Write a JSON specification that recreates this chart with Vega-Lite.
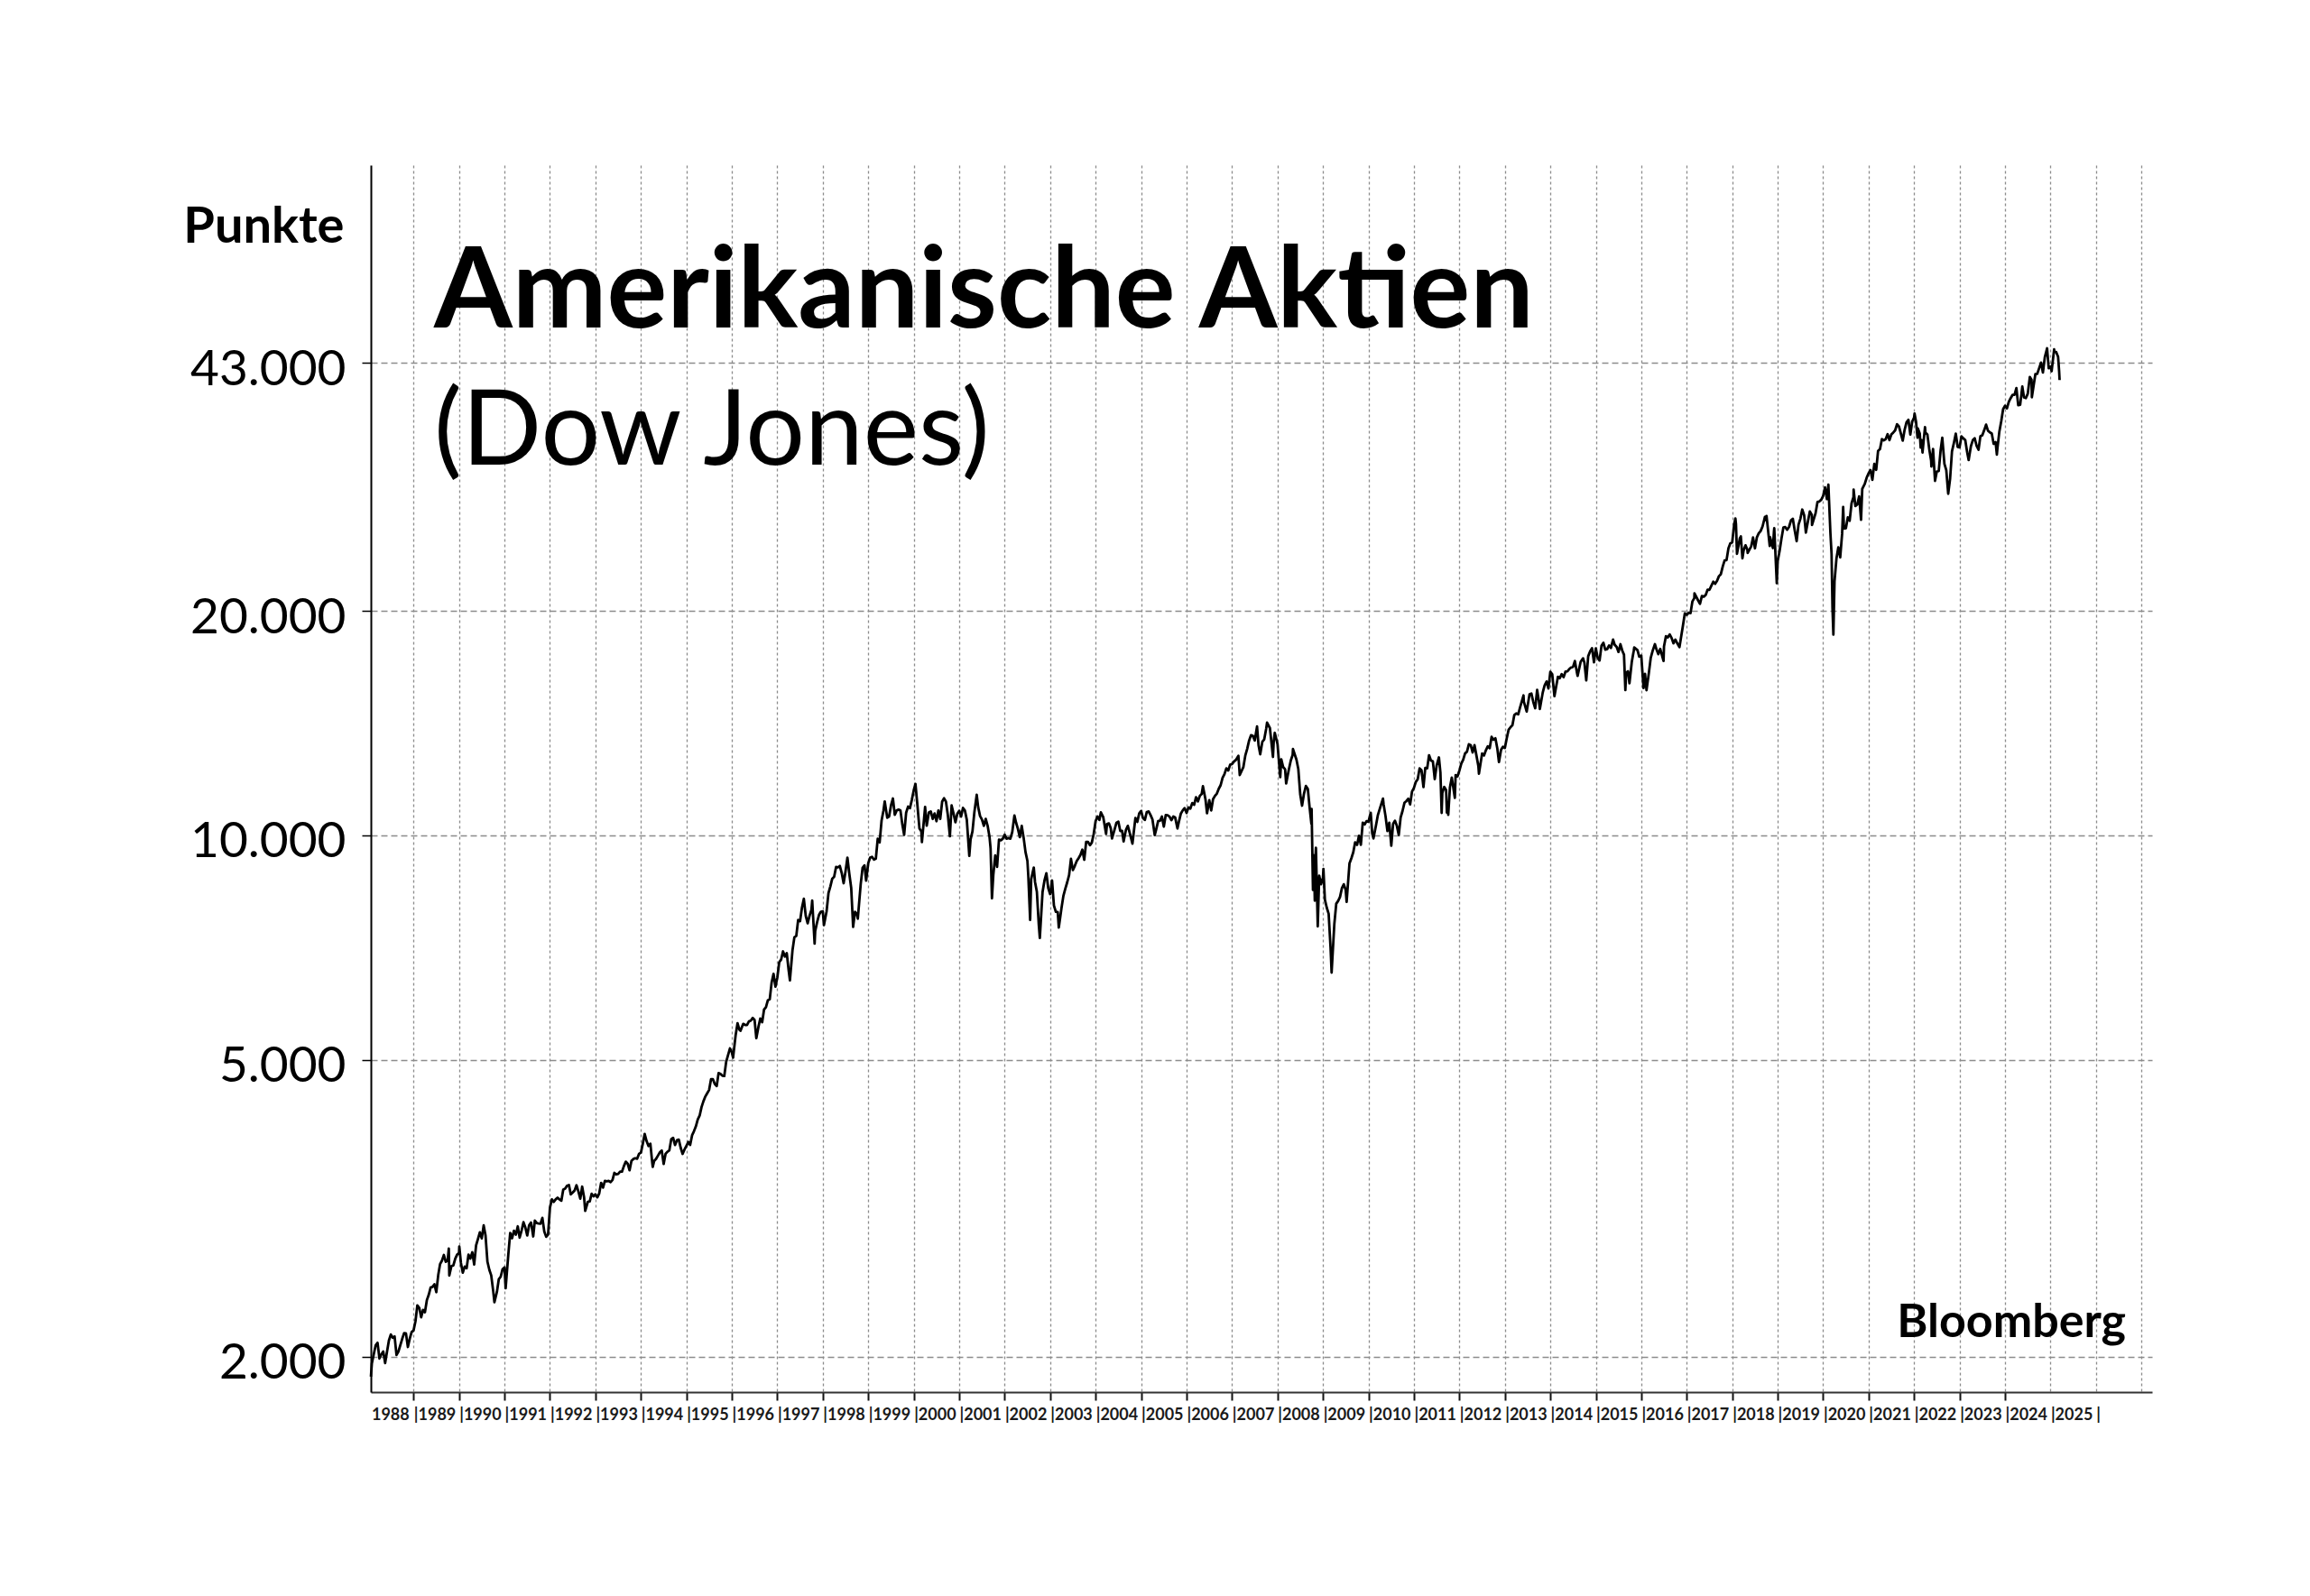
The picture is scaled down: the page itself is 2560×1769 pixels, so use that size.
{
"$schema":"https://vega.github.io/schema/vega-lite/v6.json",
"width":1974,"height":1360,
"autosize":{"type":"none"},
"padding":{"left":411,"top":183,"right":175,"bottom":226},
"background":"white",
"config":{"view":{"stroke":null},"font":"Lato"},
"title":{"text":"Amerikanische Aktien","subtitle":"(Dow Jones)","anchor":"start","frame":"group","orient":"top","font":"Lato","fontSize":125,"fontWeight":"bold","color":"black","subtitleFont":"Lato","subtitleFontSize":116,"subtitleFontWeight":"normal","subtitleColor":"black","subtitlePadding":34,"offset":-356,"dx":70},
"layer":[
{"data":{"values":[
{"t":1988.062,"v":1880},{"t":1988.083,"v":1958},{"t":1988.125,"v":2014},{"t":1988.167,"v":2071},{"t":1988.208,"v":2087},{"t":1988.25,"v":1988},{"t":1988.292,"v":2013},{"t":1988.333,"v":2032},{"t":1988.375,"v":1960},{"t":1988.417,"v":2031},{"t":1988.458,"v":2102},{"t":1988.5,"v":2141},{"t":1988.542,"v":2120},{"t":1988.583,"v":2128},{"t":1988.625,"v":2010},{"t":1988.667,"v":2031},{"t":1988.708,"v":2071},{"t":1988.75,"v":2112},{"t":1988.792,"v":2150},{"t":1988.833,"v":2148},{"t":1988.875,"v":2060},{"t":1988.917,"v":2114},{"t":1988.958,"v":2158},{"t":1989.0,"v":2168},
{"t":1989.042,"v":2230},{"t":1989.083,"v":2342},{"t":1989.125,"v":2325},{"t":1989.167,"v":2258},{"t":1989.208,"v":2310},{"t":1989.25,"v":2293},{"t":1989.292,"v":2380},{"t":1989.333,"v":2419},{"t":1989.375,"v":2475},{"t":1989.417,"v":2480},{"t":1989.458,"v":2500},{"t":1989.5,"v":2440},{"t":1989.542,"v":2570},{"t":1989.583,"v":2661},{"t":1989.625,"v":2690},{"t":1989.667,"v":2737},{"t":1989.708,"v":2680},{"t":1989.75,"v":2692},{"t":1989.775,"v":2791},{"t":1989.786,"v":2569},{"t":1989.833,"v":2645},{"t":1989.875,"v":2650},{"t":1989.917,"v":2706},{"t":1989.958,"v":2740},{"t":1990.0,"v":2753},
{"t":1990.006,"v":2810},{"t":1990.042,"v":2670},{"t":1990.083,"v":2591},{"t":1990.125,"v":2640},{"t":1990.167,"v":2627},{"t":1990.208,"v":2740},{"t":1990.25,"v":2707},{"t":1990.292,"v":2760},{"t":1990.333,"v":2657},{"t":1990.375,"v":2820},{"t":1990.417,"v":2877},{"t":1990.458,"v":2935},{"t":1990.5,"v":2881},{"t":1990.542,"v":2999},{"t":1990.583,"v":2905},{"t":1990.625,"v":2680},{"t":1990.667,"v":2614},{"t":1990.708,"v":2570},{"t":1990.75,"v":2453},{"t":1990.778,"v":2365},{"t":1990.833,"v":2442},{"t":1990.875,"v":2540},{"t":1990.917,"v":2560},{"t":1990.958,"v":2620},{"t":1991.0,"v":2634},
{"t":1991.025,"v":2470},{"t":1991.083,"v":2736},{"t":1991.125,"v":2930},{"t":1991.167,"v":2882},{"t":1991.208,"v":2950},{"t":1991.25,"v":2914},{"t":1991.292,"v":2990},{"t":1991.333,"v":2888},{"t":1991.375,"v":2950},{"t":1991.417,"v":3028},{"t":1991.458,"v":2980},{"t":1991.5,"v":2907},{"t":1991.542,"v":3000},{"t":1991.583,"v":3025},{"t":1991.632,"v":2898},{"t":1991.667,"v":3044},{"t":1991.708,"v":3020},{"t":1991.75,"v":3017},{"t":1991.792,"v":3015},{"t":1991.833,"v":3069},{"t":1991.875,"v":2943},{"t":1991.917,"v":2895},{"t":1991.958,"v":2915},{"t":1992.0,"v":3169},
{"t":1992.042,"v":3250},{"t":1992.083,"v":3224},{"t":1992.125,"v":3250},{"t":1992.167,"v":3267},{"t":1992.208,"v":3250},{"t":1992.25,"v":3236},{"t":1992.292,"v":3350},{"t":1992.333,"v":3359},{"t":1992.375,"v":3390},{"t":1992.417,"v":3397},{"t":1992.458,"v":3300},{"t":1992.5,"v":3319},{"t":1992.542,"v":3340},{"t":1992.583,"v":3394},{"t":1992.625,"v":3330},{"t":1992.667,"v":3257},{"t":1992.708,"v":3380},{"t":1992.75,"v":3272},{"t":1992.775,"v":3136},{"t":1992.833,"v":3226},{"t":1992.875,"v":3230},{"t":1992.917,"v":3306},{"t":1992.958,"v":3280},{"t":1993.0,"v":3301},
{"t":1993.042,"v":3270},{"t":1993.083,"v":3310},{"t":1993.125,"v":3420},{"t":1993.167,"v":3370},{"t":1993.208,"v":3440},{"t":1993.25,"v":3435},{"t":1993.292,"v":3440},{"t":1993.333,"v":3428},{"t":1993.375,"v":3450},{"t":1993.417,"v":3527},{"t":1993.458,"v":3510},{"t":1993.5,"v":3516},{"t":1993.542,"v":3540},{"t":1993.583,"v":3540},{"t":1993.625,"v":3600},{"t":1993.667,"v":3651},{"t":1993.708,"v":3630},{"t":1993.75,"v":3555},{"t":1993.792,"v":3660},{"t":1993.833,"v":3681},{"t":1993.875,"v":3690},{"t":1993.917,"v":3684},{"t":1993.958,"v":3740},{"t":1994.0,"v":3754},
{"t":1994.042,"v":3860},{"t":1994.083,"v":3978},{"t":1994.125,"v":3890},{"t":1994.167,"v":3832},{"t":1994.208,"v":3860},{"t":1994.25,"v":3636},{"t":1994.26,"v":3593},{"t":1994.292,"v":3660},{"t":1994.333,"v":3682},{"t":1994.375,"v":3720},{"t":1994.417,"v":3758},{"t":1994.458,"v":3780},{"t":1994.5,"v":3625},{"t":1994.542,"v":3740},{"t":1994.583,"v":3765},{"t":1994.625,"v":3780},{"t":1994.667,"v":3913},{"t":1994.708,"v":3930},{"t":1994.75,"v":3843},{"t":1994.792,"v":3900},{"t":1994.833,"v":3908},{"t":1994.875,"v":3810},{"t":1994.917,"v":3739},{"t":1994.958,"v":3790},{"t":1995.0,"v":3834},
{"t":1995.042,"v":3880},{"t":1995.083,"v":3844},{"t":1995.125,"v":3960},{"t":1995.167,"v":4011},{"t":1995.208,"v":4070},{"t":1995.25,"v":4158},{"t":1995.292,"v":4210},{"t":1995.333,"v":4321},{"t":1995.375,"v":4400},{"t":1995.417,"v":4465},{"t":1995.458,"v":4510},{"t":1995.5,"v":4556},{"t":1995.542,"v":4710},{"t":1995.583,"v":4709},{"t":1995.625,"v":4640},{"t":1995.667,"v":4611},{"t":1995.708,"v":4800},{"t":1995.75,"v":4789},{"t":1995.792,"v":4760},{"t":1995.833,"v":4756},{"t":1995.875,"v":4970},{"t":1995.917,"v":5075},{"t":1995.958,"v":5180},{"t":1996.0,"v":5117},
{"t":1996.027,"v":5032},{"t":1996.083,"v":5395},{"t":1996.125,"v":5600},{"t":1996.167,"v":5486},{"t":1996.19,"v":5470},{"t":1996.25,"v":5588},{"t":1996.292,"v":5570},{"t":1996.333,"v":5569},{"t":1996.375,"v":5630},{"t":1996.417,"v":5643},{"t":1996.458,"v":5690},{"t":1996.5,"v":5655},{"t":1996.538,"v":5346},{"t":1996.583,"v":5529},{"t":1996.625,"v":5680},{"t":1996.667,"v":5616},{"t":1996.708,"v":5840},{"t":1996.75,"v":5882},{"t":1996.792,"v":6010},{"t":1996.833,"v":6029},{"t":1996.875,"v":6350},{"t":1996.917,"v":6522},{"t":1996.958,"v":6268},{"t":1997.0,"v":6448},
{"t":1997.042,"v":6760},{"t":1997.083,"v":6813},{"t":1997.125,"v":6990},{"t":1997.167,"v":6878},{"t":1997.208,"v":6950},{"t":1997.25,"v":6584},{"t":1997.277,"v":6391},{"t":1997.333,"v":7009},{"t":1997.375,"v":7300},{"t":1997.417,"v":7331},{"t":1997.458,"v":7700},{"t":1997.5,"v":7673},{"t":1997.542,"v":8000},{"t":1997.583,"v":8223},{"t":1997.625,"v":7800},{"t":1997.667,"v":7622},{"t":1997.708,"v":7800},{"t":1997.75,"v":7945},{"t":1997.767,"v":8178},{"t":1997.82,"v":7161},{"t":1997.833,"v":7442},{"t":1997.875,"v":7650},{"t":1997.917,"v":7823},{"t":1997.958,"v":7900},{"t":1998.0,"v":7908},
{"t":1998.025,"v":7580},{"t":1998.083,"v":7907},{"t":1998.125,"v":8370},{"t":1998.167,"v":8546},{"t":1998.208,"v":8750},{"t":1998.25,"v":8800},{"t":1998.292,"v":9070},{"t":1998.333,"v":9063},{"t":1998.375,"v":9100},{"t":1998.417,"v":8900},{"t":1998.458,"v":8627},{"t":1998.5,"v":8952},{"t":1998.542,"v":9338},{"t":1998.583,"v":8883},{"t":1998.625,"v":8500},{"t":1998.667,"v":7539},{"t":1998.708,"v":7900},{"t":1998.75,"v":7843},{"t":1998.77,"v":7731},{"t":1998.833,"v":8592},{"t":1998.875,"v":9050},{"t":1998.917,"v":9117},{"t":1998.953,"v":8695},{"t":1999.0,"v":9181},
{"t":1999.042,"v":9340},{"t":1999.083,"v":9359},{"t":1999.125,"v":9280},{"t":1999.167,"v":9307},{"t":1999.208,"v":9900},{"t":1999.25,"v":9786},{"t":1999.292,"v":10460},{"t":1999.333,"v":10789},{"t":1999.362,"v":11107},{"t":1999.417,"v":10560},{"t":1999.458,"v":10600},{"t":1999.5,"v":10971},{"t":1999.542,"v":11209},{"t":1999.583,"v":10655},{"t":1999.625,"v":10800},{"t":1999.667,"v":10829},{"t":1999.708,"v":10800},{"t":1999.75,"v":10337},{"t":1999.789,"v":10019},{"t":1999.833,"v":10729},{"t":1999.875,"v":10930},{"t":1999.917,"v":10878},{"t":1999.958,"v":11160},{"t":2000.0,"v":11497},
{"t":2000.038,"v":11723},{"t":2000.083,"v":10941},{"t":2000.125,"v":10220},{"t":2000.167,"v":10128},{"t":2000.18,"v":9796},{"t":2000.25,"v":10922},{"t":2000.285,"v":10306},{"t":2000.333,"v":10734},{"t":2000.375,"v":10770},{"t":2000.417,"v":10522},{"t":2000.458,"v":10700},{"t":2000.5,"v":10448},{"t":2000.542,"v":10800},{"t":2000.583,"v":10522},{"t":2000.625,"v":11100},{"t":2000.667,"v":11215},{"t":2000.708,"v":11100},{"t":2000.75,"v":10651},{"t":2000.795,"v":9976},{"t":2000.833,"v":10971},{"t":2000.875,"v":10700},{"t":2000.917,"v":10415},{"t":2000.958,"v":10690},{"t":2001.0,"v":10788},
{"t":2001.042,"v":10600},{"t":2001.083,"v":10887},{"t":2001.125,"v":10800},{"t":2001.167,"v":10495},{"t":2001.222,"v":9389},{"t":2001.25,"v":9879},{"t":2001.292,"v":10130},{"t":2001.333,"v":10735},{"t":2001.385,"v":11337},{"t":2001.417,"v":10912},{"t":2001.458,"v":10620},{"t":2001.5,"v":10502},{"t":2001.542,"v":10300},{"t":2001.583,"v":10523},{"t":2001.625,"v":10300},{"t":2001.667,"v":9950},{"t":2001.69,"v":9605},{"t":2001.72,"v":8236},{"t":2001.75,"v":8848},{"t":2001.792,"v":9400},{"t":2001.833,"v":9075},{"t":2001.875,"v":9870},{"t":2001.917,"v":9852},{"t":2001.958,"v":9900},{"t":2002.0,"v":10022},
{"t":2002.042,"v":9900},{"t":2002.083,"v":9920},{"t":2002.125,"v":9900},{"t":2002.167,"v":10106},{"t":2002.214,"v":10635},{"t":2002.25,"v":10404},{"t":2002.292,"v":10200},{"t":2002.333,"v":9946},{"t":2002.375,"v":10300},{"t":2002.417,"v":9925},{"t":2002.458,"v":9500},{"t":2002.5,"v":9243},{"t":2002.52,"v":8813},{"t":2002.56,"v":7702},{"t":2002.583,"v":8737},{"t":2002.64,"v":9053},{"t":2002.667,"v":8664},{"t":2002.708,"v":8400},{"t":2002.75,"v":7592},{"t":2002.773,"v":7286},{"t":2002.833,"v":8397},{"t":2002.875,"v":8700},{"t":2002.917,"v":8896},{"t":2002.958,"v":8500},{"t":2003.0,"v":8342},
{"t":2003.042,"v":8700},{"t":2003.083,"v":8054},{"t":2003.125,"v":7900},{"t":2003.167,"v":7891},{"t":2003.19,"v":7524},{"t":2003.25,"v":7992},{"t":2003.292,"v":8300},{"t":2003.333,"v":8480},{"t":2003.375,"v":8650},{"t":2003.417,"v":8850},{"t":2003.458,"v":9300},{"t":2003.5,"v":8985},{"t":2003.542,"v":9100},{"t":2003.583,"v":9234},{"t":2003.625,"v":9320},{"t":2003.667,"v":9416},{"t":2003.708,"v":9570},{"t":2003.75,"v":9275},{"t":2003.792,"v":9800},{"t":2003.833,"v":9801},{"t":2003.875,"v":9700},{"t":2003.917,"v":9782},{"t":2003.958,"v":10050},{"t":2004.0,"v":10454},
{"t":2004.042,"v":10600},{"t":2004.083,"v":10488},{"t":2004.115,"v":10737},{"t":2004.167,"v":10584},{"t":2004.23,"v":10048},{"t":2004.25,"v":10358},{"t":2004.292,"v":10380},{"t":2004.333,"v":10226},{"t":2004.36,"v":9906},{"t":2004.417,"v":10188},{"t":2004.458,"v":10400},{"t":2004.5,"v":10435},{"t":2004.542,"v":10140},{"t":2004.583,"v":10140},{"t":2004.615,"v":9815},{"t":2004.667,"v":10174},{"t":2004.708,"v":10300},{"t":2004.75,"v":10080},{"t":2004.81,"v":9750},{"t":2004.833,"v":10027},{"t":2004.875,"v":10550},{"t":2004.917,"v":10428},{"t":2004.958,"v":10700},{"t":2005.0,"v":10783},
{"t":2005.042,"v":10550},{"t":2005.083,"v":10490},{"t":2005.125,"v":10750},{"t":2005.167,"v":10766},{"t":2005.208,"v":10650},{"t":2005.25,"v":10504},{"t":2005.3,"v":10012},{"t":2005.333,"v":10193},{"t":2005.375,"v":10450},{"t":2005.417,"v":10467},{"t":2005.458,"v":10600},{"t":2005.5,"v":10275},{"t":2005.542,"v":10650},{"t":2005.583,"v":10641},{"t":2005.625,"v":10600},{"t":2005.667,"v":10482},{"t":2005.708,"v":10600},{"t":2005.75,"v":10569},{"t":2005.8,"v":10215},{"t":2005.833,"v":10440},{"t":2005.875,"v":10700},{"t":2005.917,"v":10806},{"t":2005.958,"v":10880},{"t":2006.0,"v":10718},
{"t":2006.042,"v":10900},{"t":2006.083,"v":10865},{"t":2006.125,"v":11050},{"t":2006.167,"v":10993},{"t":2006.208,"v":11250},{"t":2006.25,"v":11109},{"t":2006.292,"v":11300},{"t":2006.333,"v":11367},{"t":2006.36,"v":11640},{"t":2006.417,"v":11168},{"t":2006.45,"v":10707},{"t":2006.5,"v":11150},{"t":2006.542,"v":10800},{"t":2006.583,"v":11186},{"t":2006.625,"v":11300},{"t":2006.667,"v":11381},{"t":2006.708,"v":11550},{"t":2006.75,"v":11679},{"t":2006.792,"v":11950},{"t":2006.833,"v":12081},{"t":2006.875,"v":12300},{"t":2006.917,"v":12222},{"t":2006.958,"v":12440},{"t":2007.0,"v":12463},
{"t":2007.042,"v":12560},{"t":2007.083,"v":12622},{"t":2007.14,"v":12786},{"t":2007.17,"v":12050},{"t":2007.25,"v":12354},{"t":2007.292,"v":12800},{"t":2007.333,"v":13063},{"t":2007.375,"v":13400},{"t":2007.417,"v":13628},{"t":2007.458,"v":13600},{"t":2007.5,"v":13409},{"t":2007.55,"v":14000},{"t":2007.583,"v":13212},{"t":2007.62,"v":12846},{"t":2007.667,"v":13358},{"t":2007.708,"v":13450},{"t":2007.75,"v":13896},{"t":2007.77,"v":14165},{"t":2007.833,"v":13930},{"t":2007.9,"v":12743},{"t":2007.917,"v":13372},{"t":2007.94,"v":13727},{"t":2008.0,"v":13265},
{"t":2008.06,"v":11971},{"t":2008.083,"v":12650},{"t":2008.125,"v":12350},{"t":2008.167,"v":12266},{"t":2008.19,"v":11740},{"t":2008.25,"v":12263},{"t":2008.292,"v":12600},{"t":2008.333,"v":12820},{"t":2008.34,"v":13058},{"t":2008.417,"v":12638},{"t":2008.458,"v":12270},{"t":2008.5,"v":11350},{"t":2008.54,"v":10963},{"t":2008.583,"v":11378},{"t":2008.625,"v":11650},{"t":2008.667,"v":11544},{"t":2008.705,"v":10917},{"t":2008.745,"v":10365},{"t":2008.75,"v":10851},{"t":2008.78,"v":8451},{"t":2008.8,"v":9400},{"t":2008.82,"v":8175},{"t":2008.833,"v":9325},{"t":2008.845,"v":9625},{"t":2008.885,"v":7552},{"t":2008.917,"v":8829},{"t":2008.958,"v":8600},{"t":2009.0,"v":8776},
{"t":2009.01,"v":9015},{"t":2009.042,"v":8200},{"t":2009.083,"v":8001},{"t":2009.125,"v":7850},{"t":2009.167,"v":7063},{"t":2009.19,"v":6547},{"t":2009.25,"v":7609},{"t":2009.292,"v":8100},{"t":2009.333,"v":8168},{"t":2009.375,"v":8270},{"t":2009.417,"v":8500},{"t":2009.458,"v":8600},{"t":2009.5,"v":8447},{"t":2009.52,"v":8146},{"t":2009.583,"v":9172},{"t":2009.625,"v":9320},{"t":2009.667,"v":9496},{"t":2009.708,"v":9790},{"t":2009.75,"v":9712},{"t":2009.792,"v":9990},{"t":2009.833,"v":9713},{"t":2009.875,"v":10400},{"t":2009.917,"v":10345},{"t":2009.958,"v":10450},{"t":2010.0,"v":10428},
{"t":2010.05,"v":10725},{"t":2010.083,"v":10067},{"t":2010.11,"v":9908},{"t":2010.167,"v":10325},{"t":2010.208,"v":10650},{"t":2010.25,"v":10857},{"t":2010.32,"v":11205},{"t":2010.333,"v":11009},{"t":2010.375,"v":10620},{"t":2010.417,"v":10137},{"t":2010.458,"v":10400},{"t":2010.497,"v":9774},{"t":2010.502,"v":9686},{"t":2010.542,"v":10360},{"t":2010.583,"v":10466},{"t":2010.625,"v":10300},{"t":2010.667,"v":10015},{"t":2010.708,"v":10570},{"t":2010.75,"v":10788},{"t":2010.792,"v":11060},{"t":2010.833,"v":11118},{"t":2010.875,"v":11200},{"t":2010.917,"v":11006},{"t":2010.958,"v":11450},{"t":2011.0,"v":11578},
{"t":2011.042,"v":11800},{"t":2011.083,"v":11892},{"t":2011.125,"v":12300},{"t":2011.167,"v":12226},{"t":2011.21,"v":11613},{"t":2011.25,"v":12320},{"t":2011.292,"v":12300},{"t":2011.333,"v":12811},{"t":2011.375,"v":12600},{"t":2011.417,"v":12570},{"t":2011.458,"v":11900},{"t":2011.5,"v":12414},{"t":2011.55,"v":12724},{"t":2011.583,"v":12143},{"t":2011.61,"v":10720},{"t":2011.625,"v":11400},{"t":2011.667,"v":11614},{"t":2011.708,"v":11500},{"t":2011.725,"v":10733},{"t":2011.75,"v":10913},{"t":2011.755,"v":10655},{"t":2011.792,"v":11600},{"t":2011.833,"v":11955},{"t":2011.9,"v":11231},{"t":2011.917,"v":12046},{"t":2011.958,"v":12000},{"t":2012.0,"v":12218},
{"t":2012.042,"v":12480},{"t":2012.083,"v":12633},{"t":2012.125,"v":12880},{"t":2012.167,"v":12952},{"t":2012.208,"v":13250},{"t":2012.25,"v":13212},{"t":2012.292,"v":12920},{"t":2012.333,"v":13214},{"t":2012.375,"v":12800},{"t":2012.417,"v":12393},{"t":2012.43,"v":12101},{"t":2012.5,"v":12880},{"t":2012.542,"v":12800},{"t":2012.583,"v":13009},{"t":2012.625,"v":13170},{"t":2012.667,"v":13091},{"t":2012.708,"v":13560},{"t":2012.75,"v":13437},{"t":2012.792,"v":13500},{"t":2012.833,"v":13096},{"t":2012.87,"v":12542},{"t":2012.917,"v":13026},{"t":2012.958,"v":13150},{"t":2013.0,"v":13104},
{"t":2013.042,"v":13500},{"t":2013.083,"v":13861},{"t":2013.125,"v":13970},{"t":2013.167,"v":14054},{"t":2013.208,"v":14500},{"t":2013.25,"v":14579},{"t":2013.295,"v":14537},{"t":2013.333,"v":14840},{"t":2013.41,"v":15410},{"t":2013.417,"v":15116},{"t":2013.48,"v":14660},{"t":2013.5,"v":14910},{"t":2013.542,"v":15460},{"t":2013.583,"v":15500},{"t":2013.625,"v":15100},{"t":2013.667,"v":14810},{"t":2013.71,"v":15676},{"t":2013.75,"v":15130},{"t":2013.77,"v":14776},{"t":2013.833,"v":15546},{"t":2013.875,"v":15900},{"t":2013.917,"v":16086},{"t":2013.958,"v":15740},{"t":2014.0,"v":16577},
{"t":2014.042,"v":16450},{"t":2014.09,"v":15372},{"t":2014.167,"v":16322},{"t":2014.208,"v":16250},{"t":2014.25,"v":16458},{"t":2014.292,"v":16300},{"t":2014.333,"v":16581},{"t":2014.375,"v":16600},{"t":2014.417,"v":16717},{"t":2014.458,"v":16800},{"t":2014.5,"v":16827},{"t":2014.54,"v":17138},{"t":2014.583,"v":16563},{"t":2014.6,"v":16368},{"t":2014.667,"v":17098},{"t":2014.72,"v":17280},{"t":2014.75,"v":17043},{"t":2014.79,"v":16142},{"t":2014.833,"v":17391},{"t":2014.875,"v":17650},{"t":2014.917,"v":17828},{"t":2014.96,"v":17068},{"t":2015.0,"v":17823},
{"t":2015.042,"v":17300},{"t":2015.083,"v":17165},{"t":2015.125,"v":17960},{"t":2015.167,"v":18133},{"t":2015.208,"v":17750},{"t":2015.25,"v":17776},{"t":2015.292,"v":17980},{"t":2015.333,"v":17841},{"t":2015.38,"v":18312},{"t":2015.417,"v":18011},{"t":2015.458,"v":17900},{"t":2015.5,"v":17620},{"t":2015.542,"v":18050},{"t":2015.583,"v":17690},{"t":2015.62,"v":17477},{"t":2015.65,"v":15666},{"t":2015.667,"v":16528},{"t":2015.708,"v":16600},{"t":2015.74,"v":16001},{"t":2015.792,"v":17100},{"t":2015.833,"v":17664},{"t":2015.845,"v":17868},{"t":2015.917,"v":17720},{"t":2015.955,"v":17368},{"t":2016.0,"v":17425},
{"t":2016.05,"v":15766},{"t":2016.083,"v":16466},{"t":2016.115,"v":15660},{"t":2016.167,"v":16517},{"t":2016.208,"v":17300},{"t":2016.25,"v":17685},{"t":2016.3,"v":18053},{"t":2016.333,"v":17774},{"t":2016.375,"v":17500},{"t":2016.417,"v":17787},{"t":2016.49,"v":17140},{"t":2016.5,"v":17930},{"t":2016.542,"v":18500},{"t":2016.583,"v":18432},{"t":2016.625,"v":18600},{"t":2016.667,"v":18401},{"t":2016.708,"v":18100},{"t":2016.75,"v":18308},{"t":2016.792,"v":18100},{"t":2016.84,"v":17888},{"t":2016.917,"v":19124},{"t":2016.958,"v":19850},{"t":2017.0,"v":19763},
{"t":2017.042,"v":19890},{"t":2017.083,"v":19864},{"t":2017.125,"v":20600},{"t":2017.167,"v":20812},{"t":2017.17,"v":21115},{"t":2017.25,"v":20663},{"t":2017.292,"v":20450},{"t":2017.333,"v":20941},{"t":2017.375,"v":20900},{"t":2017.417,"v":21009},{"t":2017.458,"v":21360},{"t":2017.5,"v":21350},{"t":2017.542,"v":21630},{"t":2017.583,"v":21891},{"t":2017.625,"v":21750},{"t":2017.667,"v":21948},{"t":2017.708,"v":22270},{"t":2017.75,"v":22405},{"t":2017.792,"v":22950},{"t":2017.833,"v":23377},{"t":2017.875,"v":23400},{"t":2017.917,"v":24272},{"t":2017.958,"v":24650},{"t":2018.0,"v":24719},
{"t":2018.042,"v":26100},{"t":2018.07,"v":26617},{"t":2018.083,"v":26149},{"t":2018.105,"v":23860},{"t":2018.167,"v":25029},{"t":2018.19,"v":25178},{"t":2018.225,"v":23533},{"t":2018.25,"v":24103},{"t":2018.292,"v":24500},{"t":2018.333,"v":24163},{"t":2018.34,"v":23930},{"t":2018.417,"v":24416},{"t":2018.458,"v":25100},{"t":2018.5,"v":24271},{"t":2018.542,"v":25100},{"t":2018.583,"v":25415},{"t":2018.625,"v":25600},{"t":2018.667,"v":25965},{"t":2018.72,"v":26744},{"t":2018.75,"v":26458},{"t":2018.755,"v":26828},{"t":2018.825,"v":24443},{"t":2018.833,"v":25116},{"t":2018.895,"v":24286},{"t":2018.917,"v":25538},{"t":2018.925,"v":25826},{"t":2018.98,"v":21792},{"t":2019.0,"v":23327},
{"t":2019.042,"v":24065},{"t":2019.083,"v":24999},{"t":2019.125,"v":25880},{"t":2019.167,"v":25916},{"t":2019.208,"v":25700},{"t":2019.25,"v":25929},{"t":2019.292,"v":26450},{"t":2019.333,"v":26593},{"t":2019.375,"v":25650},{"t":2019.417,"v":24815},{"t":2019.458,"v":26100},{"t":2019.5,"v":26600},{"t":2019.54,"v":27359},{"t":2019.583,"v":26864},{"t":2019.62,"v":25479},{"t":2019.667,"v":26403},{"t":2019.708,"v":27200},{"t":2019.75,"v":26917},{"t":2019.755,"v":26079},{"t":2019.833,"v":27046},{"t":2019.875,"v":28000},{"t":2019.917,"v":28051},{"t":2019.958,"v":28200},{"t":2020.0,"v":28538},
{"t":2020.042,"v":29300},{"t":2020.083,"v":28256},{"t":2020.115,"v":29551},{"t":2020.16,"v":25409},{"t":2020.185,"v":23851},{"t":2020.205,"v":20189},{"t":2020.225,"v":18592},{"t":2020.25,"v":21917},{"t":2020.292,"v":23500},{"t":2020.333,"v":24346},{"t":2020.375,"v":23600},{"t":2020.417,"v":25383},{"t":2020.44,"v":27572},{"t":2020.458,"v":25800},{"t":2020.5,"v":25813},{"t":2020.542,"v":26700},{"t":2020.583,"v":26428},{"t":2020.625,"v":27900},{"t":2020.667,"v":28430},{"t":2020.67,"v":29100},{"t":2020.708,"v":27650},{"t":2020.75,"v":27782},{"t":2020.792,"v":28500},{"t":2020.833,"v":26502},{"t":2020.86,"v":29157},{"t":2020.917,"v":29639},{"t":2020.958,"v":30200},{"t":2021.0,"v":30606},
{"t":2021.042,"v":30900},{"t":2021.083,"v":29983},{"t":2021.125,"v":31500},{"t":2021.167,"v":30932},{"t":2021.208,"v":32800},{"t":2021.25,"v":32982},{"t":2021.292,"v":34000},{"t":2021.333,"v":33875},{"t":2021.375,"v":34000},{"t":2021.417,"v":34529},{"t":2021.458,"v":33900},{"t":2021.5,"v":34503},{"t":2021.542,"v":34700},{"t":2021.583,"v":34935},{"t":2021.625,"v":35600},{"t":2021.667,"v":35361},{"t":2021.708,"v":34600},{"t":2021.75,"v":33844},{"t":2021.792,"v":35000},{"t":2021.833,"v":35820},{"t":2021.875,"v":36100},{"t":2021.917,"v":34484},{"t":2021.958,"v":35900},{"t":2022.0,"v":36338},
{"t":2022.01,"v":36800},{"t":2022.042,"v":35900},{"t":2022.075,"v":34160},{"t":2022.083,"v":35132},{"t":2022.125,"v":34600},{"t":2022.145,"v":33132},{"t":2022.167,"v":33893},{"t":2022.185,"v":32632},{"t":2022.24,"v":35295},{"t":2022.25,"v":34678},{"t":2022.292,"v":34500},{"t":2022.333,"v":32977},{"t":2022.375,"v":31800},{"t":2022.38,"v":31253},{"t":2022.417,"v":32990},{"t":2022.46,"v":29888},{"t":2022.5,"v":30775},{"t":2022.542,"v":30800},{"t":2022.583,"v":32845},{"t":2022.62,"v":34152},{"t":2022.667,"v":31510},{"t":2022.708,"v":30900},{"t":2022.75,"v":28726},{"t":2022.792,"v":30100},{"t":2022.833,"v":32733},{"t":2022.875,"v":33600},{"t":2022.917,"v":34590},{"t":2022.958,"v":33200},{"t":2023.0,"v":33147},
{"t":2023.042,"v":34300},{"t":2023.083,"v":34086},{"t":2023.125,"v":33900},{"t":2023.167,"v":32657},{"t":2023.2,"v":31874},{"t":2023.25,"v":33274},{"t":2023.292,"v":33900},{"t":2023.333,"v":34098},{"t":2023.375,"v":33300},{"t":2023.417,"v":32908},{"t":2023.458,"v":34300},{"t":2023.5,"v":34408},{"t":2023.542,"v":34950},{"t":2023.583,"v":35559},{"t":2023.625,"v":34900},{"t":2023.667,"v":34722},{"t":2023.708,"v":34600},{"t":2023.75,"v":33508},{"t":2023.792,"v":33700},{"t":2023.82,"v":32418},{"t":2023.833,"v":33053},{"t":2023.875,"v":34800},{"t":2023.917,"v":35951},{"t":2023.958,"v":37300},{"t":2024.0,"v":37690},
{"t":2024.042,"v":37400},{"t":2024.083,"v":38150},{"t":2024.125,"v":38600},{"t":2024.167,"v":38996},{"t":2024.208,"v":39000},{"t":2024.25,"v":39807},{"t":2024.29,"v":37753},{"t":2024.333,"v":37816},{"t":2024.38,"v":40004},{"t":2024.417,"v":38686},{"t":2024.458,"v":38600},{"t":2024.5,"v":39119},{"t":2024.545,"v":41198},{"t":2024.583,"v":40843},{"t":2024.59,"v":38703},{"t":2024.667,"v":41563},{"t":2024.708,"v":41600},{"t":2024.75,"v":42330},{"t":2024.792,"v":43065},{"t":2024.833,"v":41763},{"t":2024.875,"v":43800},{"t":2024.925,"v":45014},{"t":2024.96,"v":42327},{"t":2025.0,"v":42544},
{"t":2025.025,"v":41938},{"t":2025.08,"v":44882},{"t":2025.083,"v":44545},{"t":2025.125,"v":44500},{"t":2025.167,"v":43841},{"t":2025.19,"v":41912},{"t":2025.2,"v":40813}
]},
"mark":{"type":"line","color":"black","strokeWidth":2.8,"strokeJoin":"round"},
"encoding":{
"x":{"field":"t","type":"quantitative","scale":{"domain":[1988.061,2027.234],"nice":false,"zero":false},
"axis":{"values":[1988.07,1989,1990,1991,1992,1993,1994,1995,1996,1997,1998,1999,2000,2001,2002,2003,2004,2005,2006,2007,2008,2009,2010,2011,2012,2013,2014,2015,2016,2017,2018,2019,2020,2021,2022,2023,2024,2025,2026,2027],
"title":null,
"labelExpr":"datum.value < 1989 ? '1988' : datum.value > 2026.5 ? '' : datum.value > 2025.5 ? '|' : '|' + datum.value",
"labelAlign":"left","labelBaseline":"top","labelFlush":false,"labelOverlap":false,"labelBound":false,
"labelFont":"Lato","labelFontSize":18,"labelFontWeight":"bold","labelColor":"#1a1a1a","labelPadding":7,
"ticks":true,"tickSize":9,"tickColor":"#111111","tickWidth":2,
"tickOpacity":{"condition":{"test":"datum.value < 1989 || datum.value > 2024.5","value":0},"value":1},
"grid":true,"gridColor":"#8c8c8c","gridDash":[3,3],"gridWidth":1.3,
"gridOpacity":{"condition":{"test":"datum.value < 1989","value":0},"value":1},
"domainColor":"#333333","domainWidth":2}},
"y":{"field":"v","type":"quantitative","scale":{"type":"log","domain":[1792,79260],"nice":false,"zero":false},
"axis":{"values":[2000,5000,10000,20000,43000],
"labelExpr":"replace(format(datum.value, ','), ',', '.')",
"labelFont":"Lato","labelFontSize":55,"labelColor":"black","labelPadding":18,"labelOffset":7,
"tickSize":10,"tickColor":"black","tickWidth":1.5,
"grid":true,"gridColor":"#8c8c8c","gridDash":[7,4],"gridWidth":1.3,
"domainColor":"black","domainWidth":2,
"title":"Punkte","titleAngle":0,"titleAlign":"right","titleBaseline":"alphabetic","titleX":-30,"titleY":85,"titleFont":"Lato","titleFontSize":56,"titleFontWeight":"bold","titleColor":"black"}}
}},
{"data":{"values":[{}]},
"mark":{"type":"text","text":"Bloomberg","font":"Lato","fontSize":52,"fontWeight":"bold","align":"right","baseline":"alphabetic","color":"black"},
"encoding":{
"x":{"datum":2026.66,"type":"quantitative","scale":{"domain":[1988.061,2027.234],"nice":false,"zero":false}},
"y":{"datum":2124,"type":"quantitative","scale":{"type":"log","domain":[1792,79260],"nice":false,"zero":false}}
}}
]
}
